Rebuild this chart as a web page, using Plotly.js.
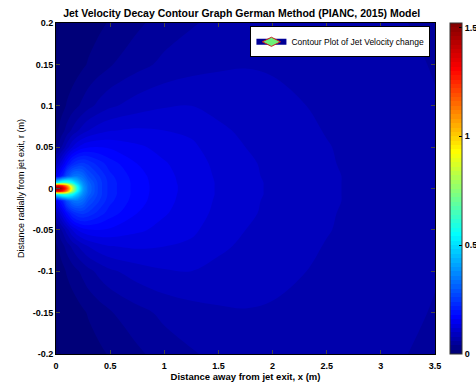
<!DOCTYPE html>
<html>
<head>
<meta charset="utf-8">
<script src="https://cdn.plot.ly/plotly-3.0.1.min.js"></script>
<style>html,body{margin:0;padding:0;background:#fff;}#chart{width:476px;height:383px;}</style>
</head>
<body>
<div id="chart"></div>
<script>
// Distance away from jet exit, x (m)
const xDist = [0, 0.05, 0.1, 0.15, 0.2, 0.25, 0.3, 0.4, 0.5, 0.75, 1.0, 1.25, 1.5, 1.75, 2.0, 2.5, 3.0, 3.5];
// Distance radially from jet exit, r (m)
const rDist = [-0.2, -0.15, -0.1, -0.07, -0.05, -0.03, -0.015, -0.007, -0.003, 0, 0.003, 0.007, 0.015, 0.03, 0.05, 0.07, 0.1, 0.15, 0.2];
// Jet velocity (m/s), one row per r value, one column per x value
const velocity = [
  [0.0,0.0,0.0,0.002,0.004,0.007,0.01,0.016,0.022,0.036,0.049,0.058,0.065,0.07,0.072,0.069,0.063,0.057],
  [0.0,0.002,0.005,0.008,0.012,0.017,0.022,0.03,0.038,0.053,0.065,0.072,0.077,0.079,0.078,0.073,0.066,0.059],
  [0.005,0.012,0.022,0.03,0.038,0.046,0.054,0.066,0.076,0.09,0.098,0.1,0.094,0.089,0.085,0.077,0.069,0.061],
  [0.016,0.03,0.048,0.064,0.078,0.09,0.1,0.112,0.119,0.123,0.12,0.116,0.104,0.096,0.09,0.079,0.07,0.062],
  [0.035,0.06,0.09,0.12,0.14,0.152,0.158,0.16,0.157,0.144,0.133,0.124,0.11,0.1,0.093,0.081,0.071,0.062],
  [0.09,0.13,0.18,0.22,0.24,0.245,0.235,0.21,0.19,0.16,0.142,0.129,0.115,0.104,0.095,0.082,0.071,0.063],
  [0.15,0.20,0.28,0.33,0.34,0.32,0.28,0.24,0.205,0.168,0.146,0.131,0.117,0.105,0.096,0.083,0.072,0.063],
  [0.50,0.60,0.62,0.56,0.46,0.37,0.31,0.25,0.21,0.17,0.147,0.132,0.118,0.106,0.097,0.083,0.072,0.063],
  [1.38,1.32,1.12,0.80,0.54,0.39,0.32,0.25,0.21,0.17,0.148,0.132,0.118,0.106,0.097,0.083,0.072,0.063],
  [1.52,1.46,1.22,0.86,0.56,0.40,0.32,0.25,0.21,0.17,0.148,0.132,0.118,0.106,0.097,0.083,0.072,0.063],
  [1.38,1.32,1.12,0.80,0.54,0.39,0.32,0.25,0.21,0.17,0.148,0.132,0.118,0.106,0.097,0.083,0.072,0.063],
  [0.50,0.60,0.62,0.56,0.46,0.37,0.31,0.25,0.21,0.17,0.147,0.132,0.118,0.106,0.097,0.083,0.072,0.063],
  [0.15,0.20,0.28,0.33,0.34,0.32,0.28,0.24,0.205,0.168,0.146,0.131,0.117,0.105,0.096,0.083,0.072,0.063],
  [0.09,0.13,0.18,0.22,0.24,0.245,0.235,0.21,0.19,0.16,0.142,0.129,0.115,0.104,0.095,0.082,0.071,0.063],
  [0.035,0.06,0.09,0.12,0.14,0.152,0.158,0.16,0.157,0.144,0.133,0.124,0.11,0.1,0.093,0.081,0.071,0.062],
  [0.016,0.03,0.048,0.064,0.078,0.09,0.1,0.112,0.119,0.123,0.12,0.116,0.104,0.096,0.09,0.079,0.07,0.062],
  [0.005,0.012,0.022,0.03,0.038,0.046,0.054,0.066,0.076,0.09,0.098,0.1,0.094,0.089,0.085,0.077,0.069,0.061],
  [0.0,0.002,0.005,0.008,0.012,0.017,0.022,0.03,0.038,0.053,0.065,0.072,0.077,0.079,0.078,0.073,0.066,0.059],
  [0.0,0.0,0.0,0.002,0.004,0.007,0.01,0.016,0.022,0.036,0.049,0.058,0.065,0.07,0.072,0.069,0.063,0.057]
];
const xTicks = [0, 0.5, 1, 1.5, 2, 2.5, 3, 3.5];
const xTickText = ['0', '0.5', '1', '1.5', '2', '2.5', '3', '3.5'];
const yTicks = [-0.2, -0.15, -0.1, -0.05, 0, 0.05, 0.1, 0.15, 0.2];
const yTickText = ['-0.2', '-0.15', '-0.1', '-0.05', '0', '0.05', '0.1', '0.15', '0.2'];
const cbTicks = [0, 0.5, 1, 1.5];
const cbTickText = ['0', '0.5', '1', '1.5'];

const jet = [
  [0, 'rgb(0,0,112)'], [0.11, 'rgb(0,0,255)'], [0.36, 'rgb(0,255,255)'],
  [0.61, 'rgb(255,255,0)'], [0.86, 'rgb(255,0,0)'], [1, 'rgb(128,0,0)']
];
const F = 'Liberation Sans, Arial, sans-serif';

const field = {
  type: 'contour',
  x: xDist, y: rDist, z: velocity,
  name: 'Contour Plot of Jet Velocity change',
  showlegend: false,
  colorscale: jet, zmin: 0, zmax: 1.52,
  autocontour: false,
  contours: {start: 0, end: 1.52, size: 0.02, coloring: 'fill', showlines: false},
  line: {width: 0},
  colorbar: {
    x: 1.0396, xanchor: 'left', xpad: 0, y: 0.5, yanchor: 'middle', len: 1, ypad: 0,
    thickness: 12, outlinewidth: 1, outlinecolor: '#333',
    tickvals: cbTicks, ticktext: cbTickText, ticks: 'inside', ticklen: 3, tickcolor: '#000',
    tickfont: {family: F, size: 9, color: '#000', weight: 'bold'}
  }
};

// legend entry for the contour plot
const legendEntry = {
  type: 'scatter', x: [null], y: [null], mode: 'lines+markers',
  name: 'Contour Plot of Jet Velocity change',
  line: {color: 'rgb(0,0,150)', width: 6},
  marker: {symbol: 'diamond-wide', size: 13, color: 'rgb(110,240,120)', line: {color: 'rgb(200,30,30)', width: 1}},
  showlegend: true, hoverinfo: 'skip'
};

const layout = {
  width: 476, height: 383,
  margin: {l: 56, r: 41, t: 23, b: 29, autoexpand: false},
  paper_bgcolor: '#fff', plot_bgcolor: '#fff',
  font: {family: F, color: '#000'},
  title: {text: 'Jet Velocity Decay Contour Graph German Method (PIANC, 2015) Model',
          font: {family: F, size: 10.5, weight: 'bold', color: '#000'},
          xref: 'paper', x: 0.49, xanchor: 'center', yref: 'container', y: 0.964, yanchor: 'middle'},
  xaxis: {range: [0, 3.5], tickvals: xTicks, ticktext: xTickText, ticks: 'inside', ticklen: 4,
          showline: true, linecolor: '#000', linewidth: 1, mirror: 'ticks', showgrid: false, zeroline: false,
          tickfont: {family: F, size: 9, weight: 'bold'}, ticklabelstandoff: 3,
          title: {text: 'Distance away from jet exit, x (m)', font: {family: F, size: 9.5, weight: 'bold'}, standoff: 1}},
  yaxis: {range: [-0.2, 0.2], tickvals: yTicks, ticktext: yTickText, ticks: 'inside', ticklen: 4,
          showline: true, linecolor: '#000', linewidth: 1, mirror: 'ticks', showgrid: false, zeroline: false,
          tickfont: {family: F, size: 9, weight: 'bold'},
          title: {text: 'Distance radially from jet exit, r (m)', font: {family: F, size: 9}, standoff: 6}},
  legend: {x: 0.513, y: 0.99, xanchor: 'left', yanchor: 'top', bgcolor: '#fff',
           bordercolor: '#000', borderwidth: 1, font: {family: F, size: 8.5}, itemwidth: 30,
           tracegroupgap: 0},
  showlegend: true
};

Plotly.newPlot('chart', [field, legendEntry], layout, {displayModeBar: false, staticPlot: true});
</script>
</body>
</html>
